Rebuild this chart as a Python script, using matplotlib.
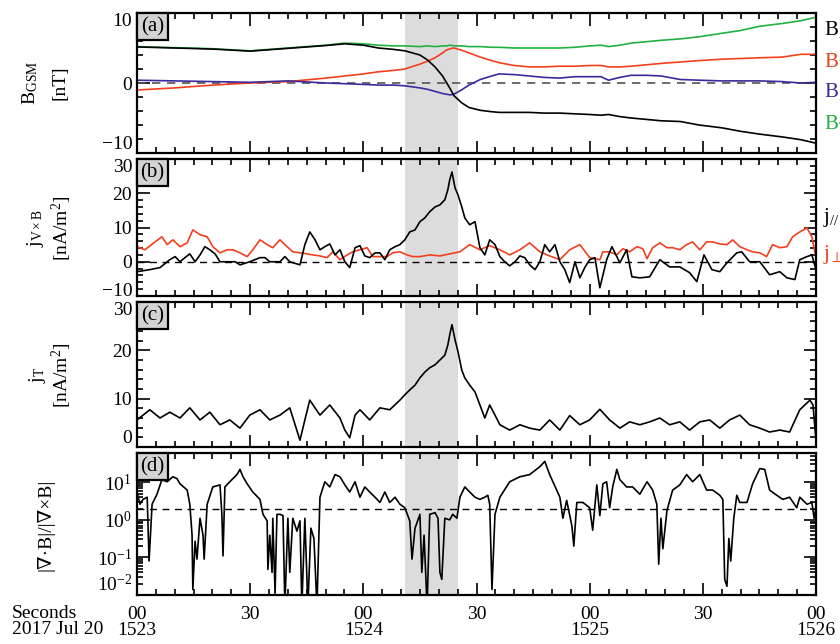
import matplotlib
matplotlib.use("Agg")
import matplotlib.pyplot as plt
from matplotlib.patches import Rectangle
from matplotlib.ticker import MultipleLocator, LogLocator, NullFormatter, FixedLocator

plt.rcParams['font.family'] = ['Liberation Serif', 'DejaVu Serif']
plt.rcParams['mathtext.fontset'] = 'custom'
plt.rcParams['mathtext.rm'] = 'Liberation Serif'
plt.rcParams['mathtext.it'] = 'Liberation Serif:italic'
plt.rcParams['font.size'] = 13

# time axis: seconds after 2017-07-20 15:23:00
# (a) magnetic field, nT
t_b = [0, 10, 20, 30, 40, 50, 55, 60, 64, 68, 71, 75, 77, 79, 81, 82, 83, 84, 86, 88, 91, 94, 96,
       100, 104, 108, 112, 116, 120, 123, 125, 128, 131, 135, 139, 144, 149, 155, 160, 165, 171, 176, 180]
bx = [5.15, 5.0, 4.85, 4.55, 4.95, 5.35, 5.6, 5.4, 5.0, 4.8, 4.6, 4.0, 3.3, 2.3, 1.0, 0.1, -0.8, -1.8,
      -2.8, -3.5, -3.9, -4.1, -4.2, -4.2, -4.2, -4.3, -4.3, -4.4, -4.5, -4.6, -4.5, -4.8, -5.0, -5.2,
      -5.4, -5.5, -6.0, -6.4, -6.9, -7.3, -7.7, -8.1, -8.6]
by = [-1.0, -0.7, -0.3, 0.0, 0.2, 0.7, 1.0, 1.3, 1.6, 1.8, 2.0, 2.7, 3.1, 3.6, 4.3, 4.7, 4.9, 5.0, 4.7,
      4.3, 3.7, 3.2, 2.9, 2.5, 2.3, 2.3, 2.4, 2.4, 2.5, 2.5, 2.3, 2.3, 2.4, 2.6, 2.8, 3.0, 3.2, 3.4,
      3.5, 3.6, 3.7, 4.1, 4.1]
bz = [0.4, 0.3, 0.2, 0.1, 0.3, 0.0, -0.1, -0.2, -0.3, -0.3, -0.4, -0.7, -0.9, -1.2, -1.5, -1.6, -1.7,
      -1.6, -1.0, -0.3, 0.5, 1.0, 1.3, 1.2, 1.0, 0.8, 0.7, 0.9, 0.9, 0.9, 0.4, 0.8, 1.1, 1.1, 1.0, 0.5,
      0.4, 0.3, 0.3, 0.3, 0.2, 0.0, 0.1]
bt = [5.2, 5.05, 4.9, 4.6, 5.0, 5.4, 5.7, 5.6, 5.4, 5.3, 5.3, 5.2, 5.3, 5.2, 5.3, 5.3, 5.4, 5.3, 5.3,
      5.2, 5.2, 5.1, 5.1, 5.0, 5.0, 5.0, 5.0, 5.1, 5.3, 5.4, 5.2, 5.4, 5.7, 5.9, 6.1, 6.3, 6.6, 7.1,
      7.5, 8.1, 8.5, 8.9, 9.4]

# (b) parallel current, nA/m^2
t_jpar = [0, 3.4, 6.1, 8.7, 10.1, 11.4, 12.7, 14.0, 15.4, 16.7, 18.0, 19.3, 20.7, 22.0, 24.6, 26.0,
          27.3, 29.9, 32.6, 33.9, 35.2, 37.9, 39.2, 40.5, 43.2, 44.5, 45.8, 47.2, 48.5, 49.8, 51.1,
          52.5, 53.8, 55.1, 56.4, 57.8, 59.1, 60.4, 61.7, 63.1, 64.4, 65.7, 67.0, 68.4, 69.7, 71.0,
          72.3, 73.7, 75.0, 76.3, 77.6, 79.0, 80.3, 81.6, 82.4, 82.9, 83.5, 84.3, 85.1, 86.1, 86.9,
          88.2, 89.6, 90.9, 92.2, 93.5, 94.9, 96.2, 97.5, 98.8, 100.2, 101.5, 102.8, 104.1, 105.5,
          106.8, 108.1, 109.4, 110.8, 112.1, 113.4, 114.7, 116.1, 117.4, 118.7, 120.0, 121.4, 122.7,
          124.5, 125.9, 128.0, 129.8, 131.2, 133.3, 135.9, 138.6, 141.2, 143.9, 146.5, 148.4, 150.3,
          152.4, 154.5, 156.4, 159.0, 160.3, 162.4, 165.1, 167.7, 170.4, 172.3, 174.4, 175.7, 177.6,
          178.9, 180]
jpar = [-2.9, -2.3, -1.7, 0.6, 1.5, 0.0, 1.2, 2.3, 0.0, 2.0, 4.4, 3.5, 2.3, 0.0, 0.0, 0.0, -0.9, 0.0,
        1.2, 1.2, 0.0, 0.0, 1.5, 0.0, -0.9, 5.0, 8.7, 6.4, 3.5, 4.4, 5.2, 2.0, 3.5, 0.0, -1.7, 4.1, 4.7,
        1.7, 1.2, 2.6, 2.6, 0.6, 3.5, 4.4, 5.0, 6.4, 8.7, 9.3, 11.7, 12.8, 14.6, 16.0, 16.6, 18.1, 21.0,
        23.9, 26.2, 21.6, 19.5, 16.0, 12.8, 10.8, 11.7, 4.1, 2.0, 6.4, 5.0, 1.5, 0.0, -1.2, 0.0, 1.7, 1.2,
        -0.9, -2.3, 0.0, 5.0, 2.9, 5.0, 0.0, -2.3, -6.1, 0.0, -4.7, -1.7, 0.6, 1.2, -7.6, 0.6, 4.4, -0.3,
        3.5, -4.4, -4.7, -4.4, 0.6, -1.5, -1.5, -3.2, -5.8, 2.0, -2.3, -2.9, -0.3, 2.6, 2.9, 0.0, 0.0,
        -3.8, -2.9, -4.7, -5.2, 0.6, 1.5, 2.0, -2.3]

# (b) perpendicular current, nA/m^2
t_jperp = [0, 2.1, 4.8, 6.6, 8.0, 9.5, 11.4, 13.3, 14.8, 16.7, 18.6, 20.1, 22.0, 23.9, 25.4, 27.3,
           29.2, 30.7, 32.6, 34.5, 36.0, 37.9, 39.8, 41.3, 43.2, 45.1, 46.6, 48.5, 50.4, 51.9, 53.8,
           55.7, 57.2, 59.1, 61.0, 62.5, 64.4, 66.3, 67.8, 69.7, 71.6, 73.1, 75.0, 77.6, 80.3, 82.9,
           85.6, 88.2, 90.9, 93.5, 96.2, 98.8, 101.5, 104.1, 106.8, 109.4, 112.1, 114.7, 117.4, 120.0,
           122.7, 123.5, 125.3, 127.2, 128.8, 130.6, 132.5, 134.1, 135.2, 136.7, 138.6, 140.5, 142.0,
           143.9, 145.7, 147.3, 149.2, 151.0, 152.6, 154.5, 156.4, 157.9, 159.8, 161.7, 163.2, 165.1,
           166.9, 168.5, 170.4, 172.3, 173.8, 175.7, 177.6, 178.9, 180]
jperp = [4.4, 3.5, 5.8, 7.3, 5.0, 6.4, 4.4, 5.5, 9.3, 7.9, 7.3, 4.4, 2.6, 3.5, 3.5, 2.6, 1.5, 3.5, 6.4,
         5.0, 4.1, 6.4, 4.4, 2.9, 2.6, 2.3, 2.0, 1.7, 1.2, 2.9, 0.6, 2.0, 2.9, 3.5, 4.1, 1.5, 1.5, 1.5,
         2.6, 2.9, 2.0, 1.5, 1.5, 2.0, 1.7, 2.3, 2.9, 5.0, 3.5, 4.7, 3.5, 2.0, 3.5, 5.5, 2.9, 1.7, 0.6,
         3.5, 5.0, 1.2, 0.6, 2.9, 2.9, 2.0, 3.8, 2.9, 4.4, 3.8, 0.9, 4.1, 5.5, 4.1, 4.1, 3.5, 5.0, 5.8,
         3.5, 5.8, 5.8, 5.2, 5.0, 6.4, 4.4, 3.5, 2.9, 2.6, 1.5, 5.0, 4.1, 4.4, 7.3, 8.7, 9.9, 7.3, 1.2]

# (c) total current, nA/m^2
t_jt = [0, 3.4, 6.1, 8.7, 11.4, 14.0, 16.7, 19.3, 22.0, 24.6, 27.3, 29.9, 32.6, 35.2, 37.9, 40.5,
        43.2, 44.5, 45.8, 48.5, 51.1, 53.8, 55.1, 56.4, 57.8, 59.1, 61.7, 64.4, 67.0, 69.7, 71.0, 72.3,
        73.7, 75.0, 76.3, 77.6, 79.0, 80.3, 81.6, 82.4, 82.9, 83.5, 84.3, 85.1, 86.1, 86.9, 88.2, 89.6,
        90.9, 92.2, 93.5, 94.9, 96.2, 98.8, 101.5, 104.1, 106.8, 109.4, 112.1, 114.7, 117.4, 120.0,
        122.7, 125.3, 128.0, 130.6, 133.3, 135.9, 138.6, 141.2, 143.9, 146.5, 149.2, 151.8, 154.5,
        157.1, 159.8, 162.4, 165.1, 167.7, 170.4, 173.0, 175.7, 178.4, 179.2, 180]
jt = [5.6, 7.7, 6.0, 7.2, 6.0, 8.1, 5.6, 7.2, 4.6, 5.6, 3.9, 6.6, 7.7, 5.6, 6.6, 8.1, 1.4, 5.6, 9.7,
      6.6, 8.7, 6.0, 3.5, 1.9, 6.6, 7.7, 5.6, 8.1, 7.7, 9.7, 10.8, 11.8, 12.8, 14.3, 15.5, 16.4, 17.0,
      18.0, 19.0, 21.1, 23.2, 25.3, 22.2, 19.7, 15.9, 14.3, 12.8, 11.4, 8.7, 6.0, 8.7, 6.6, 4.6, 3.5,
      4.6, 3.9, 3.5, 5.6, 3.5, 6.5, 4.6, 5.6, 7.8, 5.6, 3.9, 5.2, 4.6, 5.2, 6.0, 4.6, 5.2, 3.5, 5.2,
      5.6, 3.9, 5.6, 6.6, 4.6, 3.9, 3.1, 3.5, 3.1, 7.7, 9.7, 8.7, 1.4]

# (d) |div B| / |curl B|
t_r = [0, 0.8, 1.6, 2.7, 3.2, 4.0, 5.3, 6.6, 8.0, 9.5, 10.6, 11.4, 13.3, 14.0, 14.6, 14.8, 15.4, 15.9,
       16.7, 17.5, 17.8, 18.6, 20.1, 22.0, 22.5, 22.8, 23.3, 24.6, 26.5, 27.3, 28.1, 29.2, 30.7, 32.6,
       33.4, 34.5, 34.7, 35.2, 35.8, 36.0, 36.6, 37.1, 37.9, 38.7, 39.2, 40.0, 40.5, 41.3, 42.4, 43.2,
       43.7, 44.5, 45.3, 46.1, 46.9, 47.7, 48.5, 49.8, 51.1, 52.5, 53.8, 55.1, 56.4, 57.8, 59.1, 60.4,
       61.7, 63.1, 64.4, 65.7, 67.0, 68.4, 69.7, 71.0, 72.3, 72.9, 73.7, 75.0, 75.5, 76.1, 76.9, 77.6,
       79.0, 79.8, 80.3, 80.8, 81.6, 82.9, 83.7, 84.8, 85.6, 86.9, 88.2, 89.6, 90.9, 92.2, 93.0, 93.5,
       94.1, 94.9, 96.2, 98.8, 101.5, 104.1, 106.8, 108.1, 109.4, 112.1, 112.9, 113.9, 115.3, 115.8,
       116.6, 118.2, 120.0, 120.8, 121.9, 122.7, 123.5, 124.5, 125.3, 126.1, 127.2, 128.0, 129.8,
       131.4, 133.3, 135.2, 136.7, 137.8, 138.3, 138.9, 139.4, 140.5, 142.0, 143.9, 145.7, 147.3,
       149.2, 151.0, 152.6, 154.5, 155.3, 155.8, 156.4, 156.9, 157.4, 158.2, 159.0, 159.8, 161.7,
       163.2, 165.1, 166.4, 167.7, 169.6, 171.2, 173.0, 174.9, 175.7, 177.6, 178.9, 179.5, 180]
ratio = [5.5, 2.6, 3.5, 4.0, 0.08, 2.6, 4.8, 11.7, 10.3, 14, 12.5, 9.1, 6.2, 2.6, 0.39, 0.014, 0.27,
         0.09, 1.1, 0.39, 0.09, 2.6, 7.5, 8.5, 1.4, 0.11, 7.5, 10.3, 16, 22, 14, 9.1, 5.5, 3.5, 1.4,
         0.94, 0.048, 0.39, 0.04, 1.1, 0.011, 1.4, 1.4, 1.3, 0.005, 1.1, 0.04, 1.1, 0.5, 0.94, 0.005,
         1.1, 0.005, 0.6, 0.32, 0.005, 4.0, 10.3, 7.5, 16, 14, 8.5, 5.5, 10.3, 4.0, 7.5, 5.5, 4.0, 2.9,
         5.5, 2.9, 4.0, 2.6, 2.1, 0.94, 0.09, 0.6, 1.4, 0.04, 0.39, 0.005, 1.4, 1.55, 1.1, 0.04, 0.026,
         1.1, 1.0, 1.4, 1.1, 4.0, 7.5, 5.5, 4.0, 3.5, 4.0, 4.5, 2.6, 0.014, 1.4, 4.0, 10.3, 14, 16, 26,
         36, 16, 4.0, 1.1, 3.3, 0.68, 0.2, 2.9, 2.9, 2.1, 0.53, 8.5, 1.3, 9.1, 10.3, 2.1, 7.5, 22, 11.7,
         7.5, 7.5, 4.8, 10.3, 6.2, 2.6, 0.066, 1.1, 0.17, 1.8, 6.2, 8.5, 16, 10.3, 16, 6.2, 6.2, 4.5,
         3.5, 0.026, 0.017, 0.32, 0.08, 1.1, 4.5, 2.9, 2.9, 9.1, 23, 22, 6.2, 4.5, 3.5, 4.0, 2.1, 4.0,
         2.6, 2.9, 1.1, 2.1]

shade = (71, 85)
major_sec = [0, 30, 60, 90, 120, 150, 180]
major_lab = ['00\n1523', '30', '00\n1524', '30', '00\n1525', '30', '00\n1526']

red = '#f2401f'
blue = '#3a2b9c'
green = '#22b043'

fig = plt.figure(figsize=(8.4, 6.44), dpi=100)
W, H = 840, 644
x0, x1 = 137, 816
panels_px = [(13, 153), (159, 296), (302, 447), (453, 595)]
axes = []
for top, bot in panels_px:
    ax = fig.add_axes([x0 / W, (H - bot) / H, (x1 - x0) / W, (bot - top) / H])
    axes.append(ax)

for ax, (top, bot), lab in zip(axes, panels_px, ['(a)', '(b)', '(c)', '(d)']):
    ax.set_xlim(0, 180)
    ax.axvspan(shade[0], shade[1], color='#dcdcdc', lw=0, zorder=0)
    ax.xaxis.set_major_locator(FixedLocator(major_sec))
    ax.xaxis.set_minor_locator(MultipleLocator(5))
    ax.tick_params(which='both', direction='in', top=True, right=True, width=1.2)
    ax.tick_params(which='major', length=9)
    ax.tick_params(which='minor', length=4.5)
    for s in ax.spines.values():
        s.set_linewidth(1.6)
    hh = 27 / (bot - top)
    ww = 31 / (x1 - x0)
    ax.add_patch(Rectangle((0, 1 - hh), ww, hh, transform=ax.transAxes, fc='#d3d3d3',
                           ec='black', lw=1.6, zorder=5, clip_on=False))
    ax.text(ww / 2, 1 - hh / 2, lab, transform=ax.transAxes, ha='center', va='center',
            fontsize=15, zorder=6)
    if ax is not axes[-1]:
        ax.set_xticklabels([])

# (a)
ax = axes[0]
ax.axhline(0, color='#555555', ls=(0, (5, 4)), lw=1.2)
ax.plot(t_b, bt, color=green, lw=1.2)
ax.plot(t_b, by, color=red, lw=1.2)
ax.plot(t_b, bz, color=blue, lw=1.2)
ax.plot(t_b, bx, color='black', lw=1.2)
ax.set_ylim(-10, 10)
ax.set_yticks([-10, 0, 10])
ax.yaxis.set_minor_locator(MultipleLocator(2))
for txt, c, yy in [('B$_{\\rm X}$', 'black', 30), ('B$_{\\rm Y}$', red, 61),
                   ('B$_{\\rm Z}$', blue, 92), ('B$_{\\rm T}$', green, 124)]:
    fig.text(824 / W, 1 - yy / H, txt, color=c, ha='left', va='center', fontsize=15)

# (b)
ax = axes[1]
ax.axhline(0, color='black', ls=(0, (5, 4)), lw=1.0)
ax.plot(t_jperp, jperp, color=red, lw=1.2)
ax.plot(t_jpar, jpar, color='black', lw=1.2)
ax.set_ylim(-10, 30)
ax.set_yticks([-10, 0, 10, 20, 30])
ax.yaxis.set_minor_locator(MultipleLocator(2))
fig.text(823 / W, 1 - 218 / H, 'j$_{//}$', color='black', ha='left', va='center', fontsize=15)
fig.text(823 / W, 1 - 254 / H, 'j$_{\\perp}$', color=red, ha='left', va='center', fontsize=15)

# (c)
ax = axes[2]
ax.plot(t_jt, jt, color='black', lw=1.2)
ax.set_ylim(0, 30)
ax.set_yticks([0, 10, 20, 30])
ax.yaxis.set_minor_locator(MultipleLocator(2))

# (d)
ax = axes[3]
ax.set_yscale('log')
ax.axhline(2, color='black', ls=(0, (5, 4)), lw=1.0)
ax.plot(t_r, ratio, color='black', lw=1.2)
ax.set_ylim(0.01, 60)
ax.yaxis.set_major_locator(FixedLocator([0.01, 0.1, 1, 10]))
ax.yaxis.set_minor_locator(LogLocator(base=10, subs=range(2, 10)))
ax.yaxis.set_minor_formatter(NullFormatter())
ax.set_xticklabels(major_lab, fontsize=14, linespacing=0.95)
ax.tick_params(axis='x', which='major', pad=8)

# shift edge tick labels inward like the original
fig.canvas.draw()
for i, a in enumerate(axes):
    a.tick_params(axis='y', labelsize=14)
    lo, hi = a.get_ylim()
    for tl, tv in zip(a.get_yticklabels(), a.get_yticks()):
        if abs(tv - lo) < 1e-9:
            tl.set_va('baseline' if i == 1 else 'bottom')
        elif abs(tv - hi) < 1e-9 or (i == 0 and tv == 10) or tv == 30:
            tl.set_va('top')

fig.text(12 / W, 1 - 605 / H, 'Seconds\n2017 Jul 20', ha='left', va='top', fontsize=14,
         linespacing=0.95)

# y labels
def ylab(x, y, s):
    fig.text(x / W, 1 - y / H, s, rotation=90, ha='center', va='center', fontsize=14)

ylab(30, 83, 'B$_{\\rm GSM}$')
ylab(60, 83, '[nT]')
ylab(35, 228, 'j$_{\\rm V\\times B}$')
ylab(62, 228, '[nA/m$^2$]')
ylab(38, 375, 'j$_{\\rm T}$')
ylab(62, 375, '[nA/m$^2$]')
ylab(45, 525, '|\u2207\u00b7B|/|\u2207\u00d7B|')

fig.savefig('out.png', dpi=100)
